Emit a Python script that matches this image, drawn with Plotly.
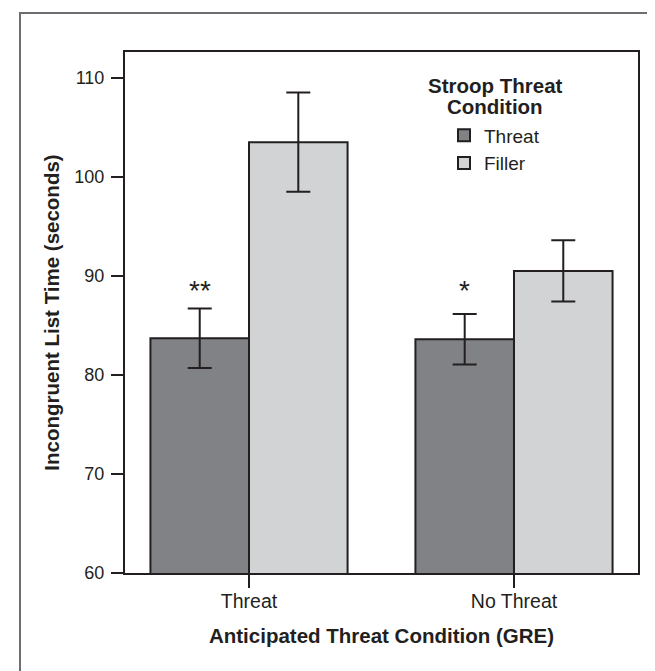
import plotly.graph_objects as go

# ---- data ----
categories = ["Threat", "No Threat"]
threat_means = [83.7, 83.6]
threat_errors = [3.0, 2.55]
filler_means = [103.5, 90.5]
filler_errors = [5.0, 3.1]
significance = ["**", "*"]
y_ticks = [60, 70, 80, 90, 100, 110]
legend_title_lines = ["Stroop Threat", "Condition"]

INK = "#231f20"
DARK = "#808285"
LIGHT = "#d1d3d4"
FONT = "Liberation Sans, Arial, sans-serif"
BARGAP = 0.256

fig = go.Figure()
fig.add_trace(go.Bar(
    name="Threat", x=categories, y=threat_means,
    marker=dict(color=DARK, line=dict(color=INK, width=2)),
    error_y=dict(type="data", array=threat_errors, visible=True,
                 color=INK, thickness=2, width=12),
))
fig.add_trace(go.Bar(
    name="Filler", x=categories, y=filler_means,
    marker=dict(color=LIGHT, line=dict(color=INK, width=2)),
    error_y=dict(type="data", array=filler_errors, visible=True,
                 color=INK, thickness=2, width=12),
))

# significance stars above the "Threat" bars
bar_w = (1 - BARGAP) / 2
star_y = max(m + e for m, e in zip(threat_means, threat_errors)) + 1.8
for i, (cat, s) in enumerate(zip(categories, significance)):
    fig.add_annotation(
        x=i - bar_w / 2, y=star_y, xref="x", yref="y", text=s,
        showarrow=False, yanchor="middle",
        font=dict(family=FONT, size=28, color=INK),
    )

L, R, T, B = 117, 25, 44, 106
W, H = 655, 671
pw, ph = W - L - R, H - T - B

# legend title (two centred bold lines)
for k, line in enumerate(legend_title_lines):
    fig.add_annotation(
        x=(487 - L) / pw, y=(H - B - (77 + 21 * k)) / ph,
        xref="paper", yref="paper", text="<b>" + line + "</b>",
        showarrow=False, xanchor="center", yanchor="middle",
        font=dict(family=FONT, size=20.5, color=INK),
    )

# outer frame of the figure
fig.add_shape(
    type="rect", xref="paper", yref="paper", layer="below",
    x0=(12 - L) / pw, x1=(654 - L) / pw,
    y0=(H - B - 690) / ph, y1=(H - B - 5) / ph,
    line=dict(color="#6d6e71", width=2), fillcolor="rgba(0,0,0,0)",
)

fig.update_layout(
    width=W, height=H,
    margin=dict(l=L, r=R, t=T, b=B),
    paper_bgcolor="white", plot_bgcolor="white",
    barmode="group", bargap=BARGAP, bargroupgap=0,
    font=dict(family=FONT, size=19, color=INK),
    showlegend=True,
    legend=dict(
        x=(436 - L) / pw, xanchor="left",
        y=(H - B - 108.5) / ph, yanchor="top",
        bgcolor="rgba(0,0,0,0)", borderwidth=0,
        font=dict(family=FONT, size=19, color=INK),
        tracegroupgap=0,
    ),
    xaxis=dict(
        type="category", range=[-0.468, 1.468],
        showline=True, mirror=True, linecolor=INK, linewidth=2,
        ticks="outside", ticklen=13, tickwidth=2, tickcolor=INK,
        ticklabelstandoff=-3,
        showgrid=False, zeroline=False,
        tickfont=dict(family=FONT, size=19.5, color=INK),
        title=dict(text="<b>Anticipated Threat Condition (GRE)</b>",
                   font=dict(family=FONT, size=20.5, color=INK), standoff=17),
    ),
    yaxis=dict(
        range=[60, 112.6], tickvals=y_ticks,
        showline=True, mirror=True, linecolor=INK, linewidth=2,
        ticks="outside", ticklen=12, tickwidth=2, tickcolor=INK,
        ticklabelstandoff=3,
        showgrid=False, zeroline=False,
        tickfont=dict(family=FONT, size=18, color=INK),
        title=dict(text="<b>Incongruent List Time (seconds)</b>",
                   font=dict(family=FONT, size=20.5, color=INK), standoff=9),
    ),
)

fig.write_html("out.html")
